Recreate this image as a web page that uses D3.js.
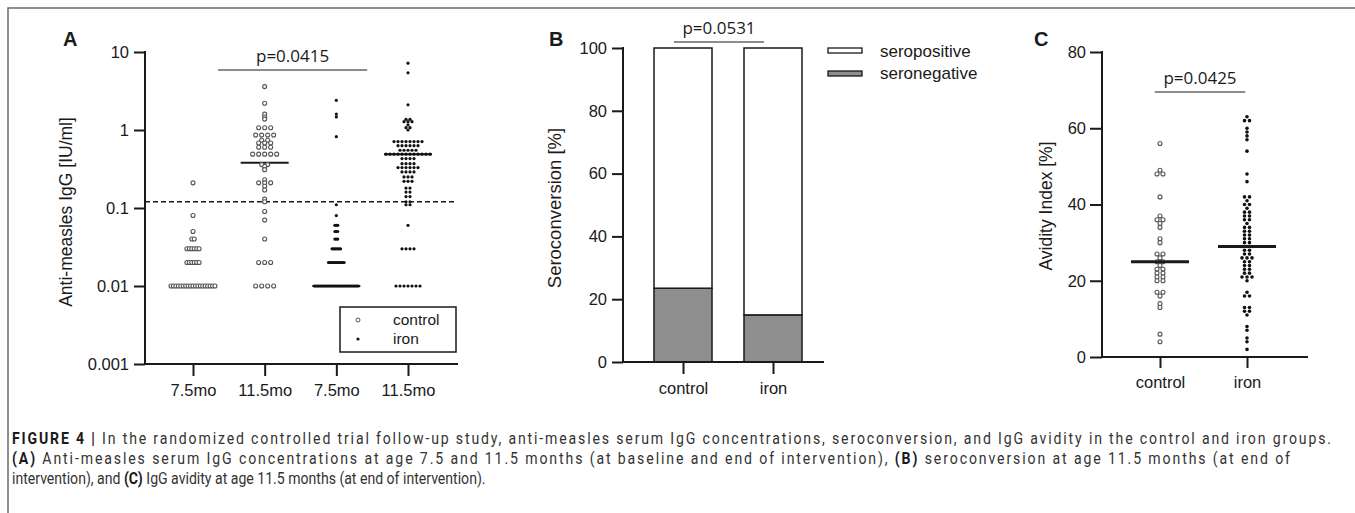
<!DOCTYPE html>
<html>
<head>
<meta charset="utf-8">
<script src="https://cdn.jsdelivr.net/npm/d3@7"></script>
<style>
  body { margin: 0; background: #fff; }
  svg { display: block; }
  .lab { font-family: "Liberation Sans", Arimo, Arial, sans-serif; fill: #1a1a1a; }
  .pval { font-family: "Open Sans", sans-serif; fill: #1a1a1a; }
  .cap { font-family: Roboto, "Liberation Sans", sans-serif; fill: #333; }
</style>
</head>
<body>
<svg id="fig" width="1355" height="513"></svg>
<script>
// ---- Panel A: anti-measles IgG, [value, count] ----
const groupLabelsA = ["7.5mo", "11.5mo", "7.5mo", "11.5mo"];
const groupArmA = ["control", "control", "iron", "iron"];
const control75 = [[0.21, 1], [0.08, 1], [0.05, 1], [0.04, 2], [0.03, 6], [0.02, 6], [0.01, 19]];
const control115 = [[3.6, 1], [2.2, 1], [1.6, 1], [1.47, 1], [1.38, 1], [1.07, 3], [0.86, 4],
  [0.74, 2], [0.68, 3], [0.6, 3], [0.49, 5], [0.36, 2], [0.34, 1], [0.31, 1], [0.23, 1],
  [0.21, 3], [0.19, 1], [0.17, 1], [0.13, 1], [0.12, 1], [0.09, 1], [0.07, 1], [0.04, 1],
  [0.02, 3], [0.01, 4]];
const iron75 = [[2.4, 1], [1.6, 1], [1.47, 1], [0.82, 1], [0.11, 1], [0.08, 1], [0.06, 3],
  [0.05, 3], [0.04, 3], [0.03, 7], [0.02, 12], [0.01, 32]];
const iron115 = [[7.2, 1], [5.4, 1], [2.1, 1], [1.37, 2], [1.28, 3], [1.16, 1], [1.07, 2],
  [1.0, 1], [0.71, 8], [0.63, 6], [0.55, 5], [0.49, 12], [0.43, 4], [0.37, 4], [0.33, 6],
  [0.29, 4], [0.25, 3], [0.22, 3], [0.18, 2], [0.16, 2], [0.14, 2], [0.12, 2], [0.11, 2],
  [0.06, 1], [0.03, 4], [0.01, 7]];
const mediansA = [0.01, 0.38, 0.01, 0.49];
const cutoffA = 0.12;
const ticksA = [0.001, 0.01, 0.1, 1, 10];
const pA = "p=0.0415";

// ---- Panel B: seroconversion ----
const groupsB = ["control", "iron"];
const seronegative = [23.5, 15.0];
const seropositive = [76.5, 85.0];
const ticksB = [0, 20, 40, 60, 80, 100];
const pB = "p=0.0531";

// ---- Panel C: avidity index ----
const groupsC = ["control", "iron"];
const avidityControl = [56, 49, 48, 48, 42, 37, 36, 36, 35, 34, 31, 30, 27, 27, 26, 25, 25,
  24, 23, 23, 22, 22, 21, 21, 20, 20, 17, 17, 16, 14, 13, 6, 4];
const avidityIron = [63, 62, 62, 60, 59, 58, 57, 54, 48, 46, 42, 42, 41, 40, 40, 39, 38, 38,
  37, 37, 36, 36, 35, 34, 34, 33, 33, 32, 32, 31, 31, 30, 30, 29, 29, 29, 28, 28, 27, 27, 26,
  26, 26, 25, 25, 24, 24, 23, 23, 22, 22, 21, 21, 21, 20, 17, 16, 16, 13, 13, 12, 12, 11, 8,
  7, 5, 4, 2];
const mediansC = [25, 29];
const ticksC = [0, 20, 40, 60, 80];
const pC = "p=0.0425";

const INK = "#1a1a1a";
const svg = d3.select("#fig");
svg.append("rect").attr("width", 1355).attr("height", 513).attr("fill", "#fff");

// frame of the figure box
svg.append("path").attr("d", "M8,513V8H1355")
  .attr("fill", "none").attr("stroke", "#6a6a6a").attr("stroke-width", 1.5);

// spread points of equal value side by side; squeeze when a row is too wide
function spread(pairs, base, cap) {
  const maxN = d3.max(pairs, (p) => p[1]);
  const s = maxN > 1 ? Math.min(base, cap / (maxN - 1)) : base;
  const out = [];
  pairs.forEach(([v, n]) => {
    for (let i = 0; i < n; i++) out.push({ v, dx: (i - (n - 1) / 2) * s });
  });
  return out;
}
const toPairs = (vals) => d3.rollups(vals, (g) => g.length, (d) => d);

function styleAxis(g, size) {
  g.select(".domain").remove();
  g.attr("font-family", null).attr("font-size", null);
  g.selectAll(".tick line").attr("stroke", INK).attr("stroke-width", 2);
  g.selectAll(".tick text").attr("class", "lab").style("font-size", size + "px");
}
function axisLine(x1, y1, x2, y2) {
  svg.append("line").attr("x1", x1).attr("y1", y1).attr("x2", x2).attr("y2", y2)
    .attr("stroke", INK).attr("stroke-width", 2).attr("stroke-linecap", "square");
}
function yTitle(text, x, y, size) {
  svg.append("text").attr("class", "lab")
    .attr("transform", `translate(${x},${y}) rotate(-90)`)
    .attr("text-anchor", "middle").style("font-size", size + "px").text(text);
}
function panelLetter(t, x, y) {
  svg.append("text").attr("class", "lab").attr("x", x).attr("y", y)
    .style("font-size", "20px").style("font-weight", "bold").text(t);
}
function pBracket(text, x1, x2, y) {
  svg.append("line").attr("x1", x1).attr("x2", x2).attr("y1", y).attr("y2", y)
    .attr("stroke", INK).attr("stroke-width", 1.2);
  svg.append("text").attr("class", "pval").attr("x", (x1 + x2) / 2).attr("y", y - 8)
    .attr("text-anchor", "middle").style("font-size", "17px").text(text);
}
function drawDots(g, pts, cx, y, arm, r) {
  g.selectAll(null).data(pts).join("circle")
    .attr("cx", (d) => cx + d.dx).attr("cy", (d) => y(d.v)).attr("r", r)
    .attr("fill", arm === "control" ? "#fff" : "#111")
    .attr("stroke", arm === "control" ? "#555" : "none")
    .attr("stroke-width", 1.1);
}

// ================= Panel A =================
{
  const left = 145, right = 457;
  const y = d3.scaleLog().domain([0.001, 10]).range([364, 52]);
  const xi = d3.scaleLinear().domain([0, 3]).range([193, 408]);

  panelLetter("A", 63, 46);
  yTitle("Anti-measles IgG [IU/ml]", 72, 212, 17.5);

  svg.append("g").attr("transform", `translate(${left},0)`)
    .call(d3.axisLeft(y).tickValues(ticksA).tickFormat((d) => String(d)).tickSize(11).tickPadding(5))
    .call((g) => styleAxis(g, 16.5));
  svg.append("g").attr("transform", `translate(0,${y.range()[0]})`)
    .call(d3.axisBottom(xi).tickValues([0, 1, 2, 3]).tickFormat((i) => groupLabelsA[i])
      .tickSize(12).tickPadding(8))
    .call((g) => styleAxis(g, 16.5));
  axisLine(left, y.range()[1], left, y.range()[0]);
  axisLine(left, y.range()[0], right, y.range()[0]);

  // seropositivity cut-off
  svg.append("line").attr("x1", left).attr("x2", right)
    .attr("y1", y(cutoffA)).attr("y2", y(cutoffA))
    .attr("stroke", INK).attr("stroke-width", 1.6).attr("stroke-dasharray", "5,3");

  const groups = [control75, control115, iron75, iron115];
  const dots = svg.append("g");
  groups.forEach((pairs, i) => {
    const arm = groupArmA[i];
    const pts = spread(pairs, arm === "control" ? 6 : 4.2, 44);
    dots.append("line").attr("x1", xi(i) - 24).attr("x2", xi(i) + 24)
      .attr("y1", y(mediansA[i])).attr("y2", y(mediansA[i]))
      .attr("stroke", INK).attr("stroke-width", 2);
    drawDots(dots.append("g"), pts, xi(i), y, arm, arm === "control" ? 2 : 1.6);
  });

  pBracket(pA, xi(0.35), xi(2.43), 70);

  // legend
  const lg = svg.append("g");
  lg.append("rect").attr("x", 340).attr("y", 307).attr("width", 116).attr("height", 45)
    .attr("fill", "#fff").attr("stroke", INK).attr("stroke-width", 1.5);
  ["control", "iron"].forEach((arm, i) => {
    lg.append("circle").attr("cx", 358).attr("cy", 320 + i * 19).attr("r", arm === "control" ? 2 : 1.6)
      .attr("fill", arm === "control" ? "#fff" : "#111")
      .attr("stroke", arm === "control" ? "#555" : "none");
    lg.append("text").attr("class", "lab").attr("x", 393).attr("y", 325 + i * 19)
      .style("font-size", "15.5px").text(arm);
  });
}

// ================= Panel B =================
{
  const left = 623, right = 823, barW = 58;
  const y = d3.scaleLinear().domain([0, 100]).range([362, 48]);
  const x = d3.scalePoint().domain(groupsB).range([683, 773]);
  const xi = d3.scaleLinear().domain([0, 1]).range(x.range());

  panelLetter("B", 549, 46);
  yTitle("Seroconversion [%]", 561, 208, 18.5);

  svg.append("g").attr("transform", `translate(${left},0)`)
    .call(d3.axisLeft(y).tickValues(ticksB).tickSize(11).tickPadding(5))
    .call((g) => styleAxis(g, 16.5));
  svg.append("g").attr("transform", `translate(0,${y.range()[0]})`)
    .call(d3.axisBottom(x).tickSize(12).tickPadding(8))
    .call((g) => styleAxis(g, 16.5));

  const rows = groupsB.map((g, i) => ({ group: g, seronegative: seronegative[i], seropositive: seropositive[i] }));
  const stack = d3.stack().keys(["seronegative", "seropositive"])(rows);
  const fills = { seronegative: "#8e8e8e", seropositive: "#fff" };
  stack.forEach((layer) => {
    svg.append("g").selectAll("rect").data(layer).join("rect")
      .attr("x", (d) => x(d.data.group) - barW / 2).attr("width", barW)
      .attr("y", (d) => y(d[1])).attr("height", (d) => y(d[0]) - y(d[1]))
      .attr("fill", fills[layer.key]).attr("stroke", INK).attr("stroke-width", 1.5);
  });
  axisLine(left, y.range()[1], left, y.range()[0]);
  axisLine(left, y.range()[0], right, y.range()[0]);

  pBracket(pB, xi(-0.1), xi(0.9), 42);

  // legend
  ["seropositive", "seronegative"].forEach((k, i) => {
    svg.append("rect").attr("x", 828).attr("y", 48 + i * 23).attr("width", 34).attr("height", 5)
      .attr("fill", fills[k]).attr("stroke", INK).attr("stroke-width", 1.3);
    svg.append("text").attr("class", "lab").attr("x", 880).attr("y", 57 + i * 22)
      .style("font-size", "17px").text(k);
  });
}

// ================= Panel C =================
{
  const left = 1102, right = 1307;
  const y = d3.scaleLinear().domain([0, 80]).range([357, 52]);
  const x = d3.scalePoint().domain(groupsC).range([1160, 1247]);
  const xi = d3.scaleLinear().domain([0, 1]).range(x.range());

  panelLetter("C", 1034, 46);
  yTitle("Avidity Index [%]", 1052, 206, 17.5);

  svg.append("g").attr("transform", `translate(${left},0)`)
    .call(d3.axisLeft(y).tickValues(ticksC).tickSize(12).tickPadding(4))
    .call((g) => styleAxis(g, 16.5));
  svg.append("g").attr("transform", `translate(0,${y.range()[0]})`)
    .call(d3.axisBottom(x).tickSize(11).tickPadding(8))
    .call((g) => styleAxis(g, 16.5));
  axisLine(left, y.range()[1], left, y.range()[0]);
  axisLine(left, y.range()[0], right, y.range()[0]);

  const sets = [avidityControl, avidityIron];
  groupsC.forEach((arm, i) => {
    const pts = spread(toPairs(sets[i]), arm === "control" ? 6 : 5, 40);
    drawDots(svg.append("g"), pts, x(arm), y, arm, arm === "control" ? 2 : 1.8);
    svg.append("line").attr("x1", x(arm) - 29).attr("x2", x(arm) + 29)
      .attr("y1", y(mediansC[i])).attr("y2", y(mediansC[i]))
      .attr("stroke", INK).attr("stroke-width", 3);
  });

  pBracket(pC, xi(-0.06), xi(0.98), 92);
}

// ================= Caption =================
// justified paragraph in a condensed face: the last line sets the squeeze,
// the two full lines are stretched with letter spacing to their width.
const captionLines = [
  { y: 444, w: 1319, justify: true, parts: [["FIGURE 4 | ", true], ["In the randomized controlled trial follow-up study, anti-measles serum IgG concentrations, seroconversion, and IgG avidity in the control and iron groups.", false]] },
  { y: 464, w: 1278, justify: true, parts: [["(A)", true], [" Anti-measles serum IgG concentrations at age 7.5 and 11.5 months (at baseline and end of intervention), ", false], ["(B)", true], [" seroconversion at age 11.5 months (at end of", false]] },
  { y: 484, w: 474, justify: false, parts: [["intervention), and ", false], ["(C)", true], [" IgG avidity at age 11.5 months (at end of intervention).", false]] },
];
const capNodes = captionLines.map((ln) => {
  const t = svg.append("text").attr("class", "cap")
    .attr("transform", `translate(12,${ln.y})`)
    .style("font-size", "17px").attr("xml:space", "preserve");
  ln.parts.forEach(([s, b]) => {
    t.append("tspan").style("font-weight", b ? "bold" : "normal").style("fill", b ? "#1a1a1a" : "#333").text(s);
  });
  return t;
});
const lastIdx = captionLines.length - 1;
const squeeze = captionLines[lastIdx].w / capNodes[lastIdx].node().getComputedTextLength();
capNodes.forEach((t, i) => {
  const ln = captionLines[i];
  t.attr("transform", `translate(12,${ln.y}) scale(${squeeze},1)`);
  if (ln.justify) {
    const need = ln.w / squeeze;
    if (need > t.node().getComputedTextLength()) {
      t.attr("textLength", need).attr("lengthAdjust", "spacing");
    }
  }
});
</script>
</body>
</html>
